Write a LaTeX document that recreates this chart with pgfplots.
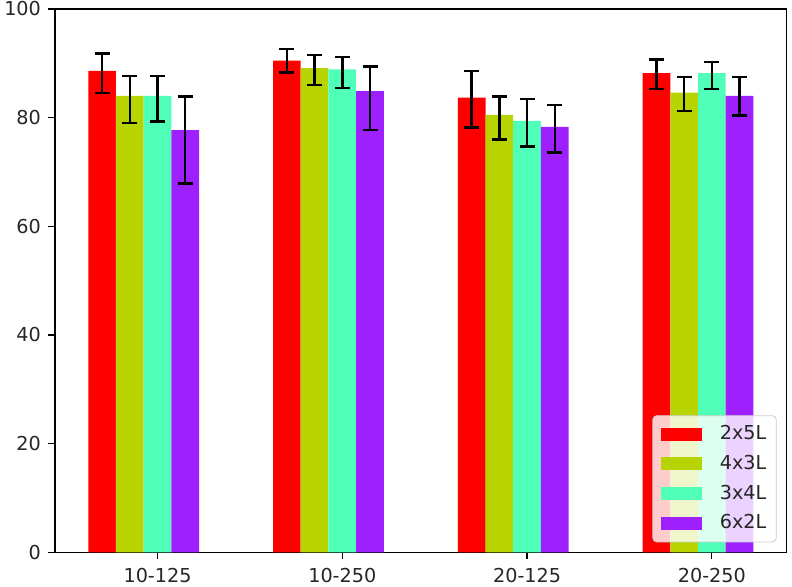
\documentclass[border=0pt]{standalone}
\usepackage{fontspec}
\setmainfont{DejaVu Sans}
\usepackage{pgfplots}
\usepackage{pgfplotstable}
\pgfplotsset{compat=1.18}

\definecolor{cred}{HTML}{FF0000}
\definecolor{cgreen}{HTML}{B8D400}
\definecolor{ccyan}{HTML}{50FFB8}
\definecolor{cpurple}{HTML}{9E20FF}

% x = group index, y = bar height, ep/em = upper/lower error
\pgfplotstableread{
x y    ep  em
0 88.6 3.2 4.1
1 90.5 2.1 2.2
2 83.7 4.9 5.5
3 88.2 2.5 2.9
}\tabA
\pgfplotstableread{
x y    ep  em
0 84.0 3.7 5.0
1 89.1 2.4 3.1
2 80.5 3.4 4.5
3 84.6 2.9 3.4
}\tabB
\pgfplotstableread{
x y    ep  em
0 84.0 3.7 4.7
1 88.9 2.3 3.4
2 79.4 4.0 4.7
3 88.2 2.0 2.9
}\tabC
\pgfplotstableread{
x y    ep  em
0 77.7 6.2 9.8
1 84.9 4.5 7.2
2 78.3 4.0 4.7
3 84.0 3.5 3.6
}\tabD

\pgfplotsset{
  mybar/.style={
    draw=none, fill=#1,
    legend image code/.code={\fill[#1, sharp corners, fill opacity=1] (0pt,-3.25pt) rectangle (20.5pt,3.25pt);},
    error bars/.cd, y dir=both, y explicit,
    error bar style={black, line width=1.2pt},
    error mark options={rotate=90, black, line width=1.2pt, mark size=3.75pt},
    /pgfplots/.cd,
  },
}

\begin{document}
\begin{tikzpicture}
\begin{axis}[
  scale only axis,
  width=365.85pt, height=271.65pt,
  ybar, bar width=0.15,
  xmin=-0.555, xmax=3.405,
  ymin=0, ymax=100,
  xtick={0,1,2,3},
  xticklabels={10-125,10-250,20-125,20-250},
  ytick={0,20,40,60,80,100},
  tick align=outside, tick pos=left,
  major tick length=3.5pt,
  tick style={black, line width=0.6pt},
  axis line style={black, line width=0.6pt},
  /pgf/number format/assume math mode=true,
  tick label style={font=\fontsize{9.6}{11}\selectfont, text=black!85},
  xticklabel style={yshift=-1pt},
  legend style={
    at={(1,0)}, anchor=south east, xshift=-5pt, yshift=5pt,
    fill=white, fill opacity=0.8, text opacity=1,
    draw=black!20, rounded corners=2pt,
    font=\fontsize{9.6}{11}\selectfont,
    row sep=4.2pt, inner xsep=4pt, inner ysep=4pt,
    nodes={inner sep=1pt, text=black!85},
    /tikz/every odd column/.append style={column sep=8pt},
  },
  legend cell align=left,
]
\addplot[bar shift=-0.3, mybar=cred]
  table[x=x, y=y, y error plus=ep, y error minus=em] {\tabA};
\addlegendentry{2x5L}
\addplot[bar shift=-0.15, mybar=cgreen]
  table[x=x, y=y, y error plus=ep, y error minus=em] {\tabB};
\addlegendentry{4x3L}
\addplot[bar shift=0, mybar=ccyan]
  table[x=x, y=y, y error plus=ep, y error minus=em] {\tabC};
\addlegendentry{3x4L}
\addplot[bar shift=0.15, mybar=cpurple]
  table[x=x, y=y, y error plus=ep, y error minus=em] {\tabD};
\addlegendentry{6x2L}
\end{axis}
\pgfresetboundingbox
\path[use as bounding box] (-27.5pt,-16.85pt) rectangle (368.5pt,276.15pt);
\end{tikzpicture}
\end{document}
